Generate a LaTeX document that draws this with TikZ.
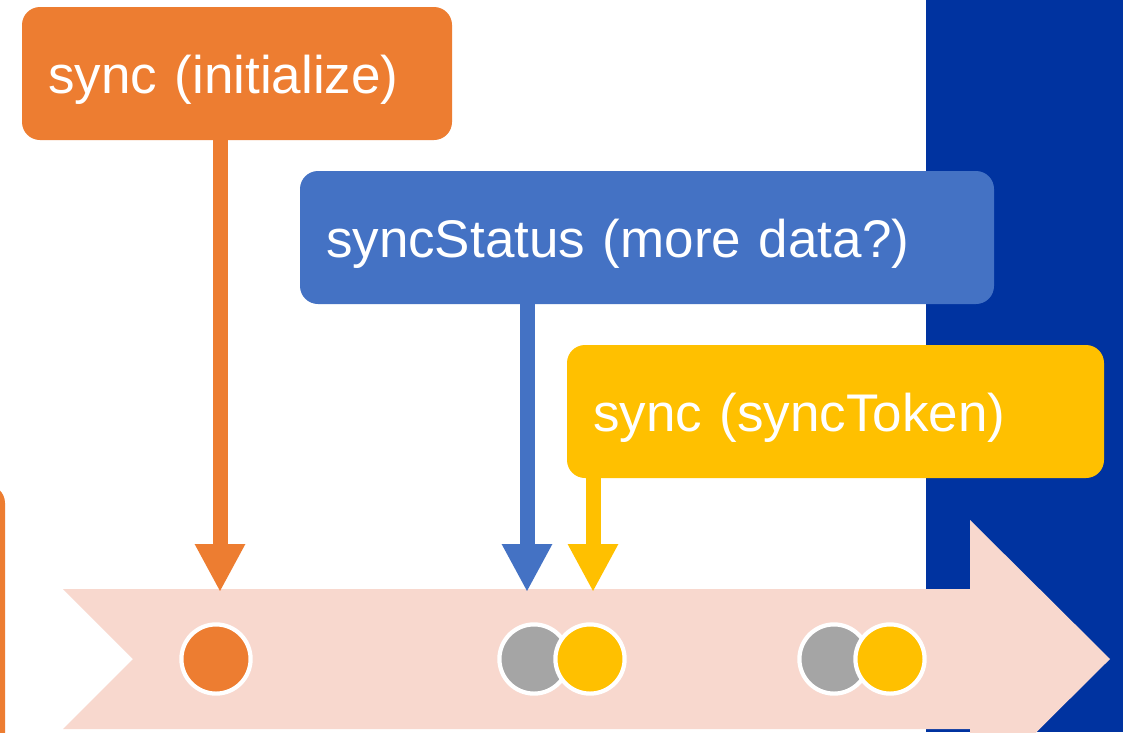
\documentclass[tikz,border=0pt]{standalone}
\usepackage{fontspec}
\setmainfont{Liberation Sans}
\usetikzlibrary{arrows.meta}
\definecolor{corange}{HTML}{ED7D31}
\definecolor{cblue}{HTML}{4472C4}
\definecolor{cyellow}{HTML}{FFC000}
\definecolor{cnavy}{HTML}{0033A0}
\definecolor{cband}{HTML}{F8D8CE}
\definecolor{cgray}{HTML}{A5A5A5}
\begin{document}
\begin{tikzpicture}[x=1pt,y=-1pt,
  labelbox/.style={rounded corners=18pt, text=white, inner xsep=26pt, inner ysep=0pt,
    outer sep=0pt, anchor=north west, align=left, minimum height=133pt,
    font=\fontsize{53}{60}\selectfont, text height=39pt, text depth=0pt},
  dot/.style={circle, draw=white, line width=4.2pt, minimum size=69.2pt, inner sep=0pt},
  pointer/.style={line width=15pt, -{Triangle[length=48pt,width=47pt]}}
]
\clip (0,0) rectangle (1123,732);
\useasboundingbox (0,0) rectangle (1123,732);
\fill[white] (0,0) rectangle (1123,732);
% navy background panel
\fill[cnavy] (926,0) rectangle (1123,732);
% partial orange box at left edge
\fill[corange, rounded corners=18pt] (-120,485) rectangle (5,820);
% timeline arrow band
\fill[cband] (63,589) -- (970,589) -- (970,520) -- (1110,659) -- (970,798)
  -- (970,729) -- (63,729) -- (133,659) -- cycle;
% dots
\node[dot, fill=corange] (d1) at (216,659) {};
\node[dot, fill=cgray] (g2) at (534,659) {};
\node[dot, fill=cyellow] (y2) at (590,659) {};
\node[dot, fill=cgray] (g3) at (834,659) {};
\node[dot, fill=cyellow] (y3) at (890,659) {};
% label boxes
\node[labelbox, fill=corange, text width=378pt] (init) at (22,7) {sync (initialize)};
\node[labelbox, fill=cblue, text width=642pt] (status) at (300,171) {syncStatus (more data?)};
\node[labelbox, fill=cyellow, text width=485pt] (token) at (567,345) {sync (syncToken)};
% arrow tips
\coordinate (otip) at (220,592);
\coordinate (btip) at (527,592);
\coordinate (ytip) at (593,592);
\draw[pointer, corange] (init.south -| otip) -- (otip);
\draw[pointer, cblue] (status.south -| btip) -- (btip);
\draw[pointer, cyellow] (token.south -| ytip) -- (ytip);
\end{tikzpicture}
\end{document}
